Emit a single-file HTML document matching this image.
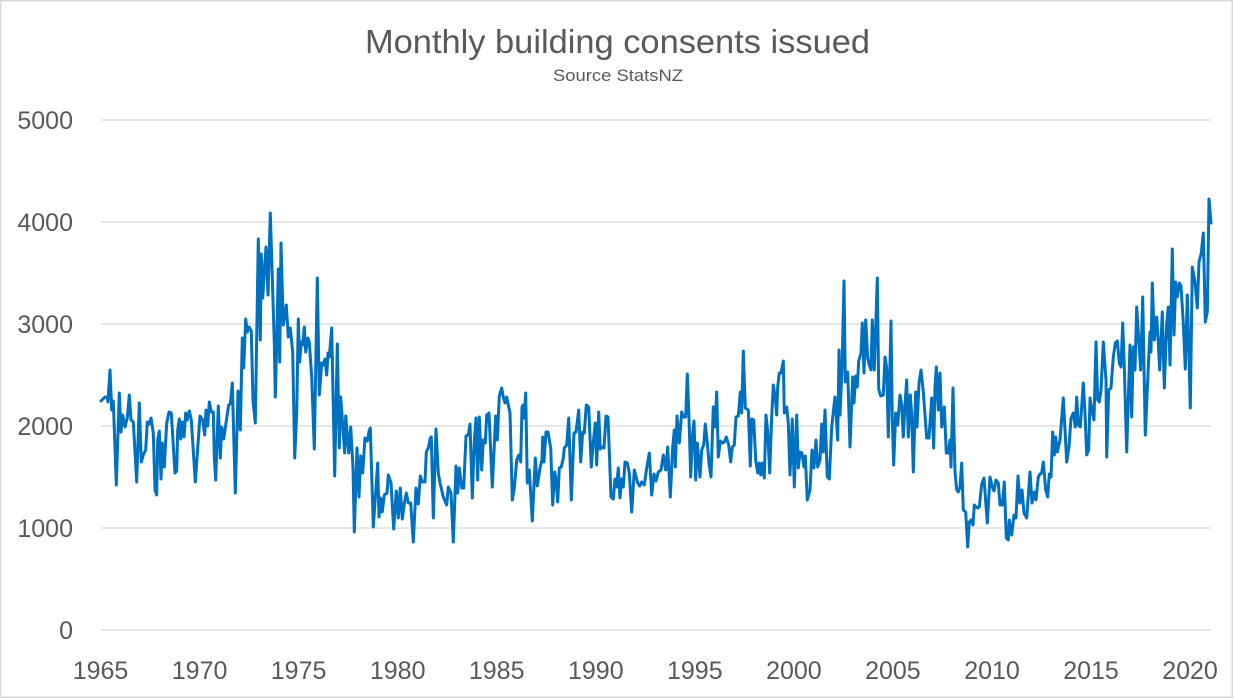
<!DOCTYPE html>
<html>
<head>
<meta charset="utf-8">
<style>
  html,body{margin:0;padding:0;background:#fff;}
  svg{display:block;}
  text{font-family:"Liberation Sans",Arial,sans-serif;fill:#595959;}
</style>
</head>
<body>
<svg width="1235" height="699" viewBox="0 0 1235 699" xmlns="http://www.w3.org/2000/svg">
  <rect x="0" y="0" width="1235" height="699" fill="#fff"/>
  <rect x="0.75" y="0.75" width="1231.5" height="696.5" fill="none" stroke="#d9d9d9" stroke-width="1.5"/>

  <!-- Title -->
  <text x="617.5" y="53" font-size="33" text-anchor="middle" textLength="505" lengthAdjust="spacingAndGlyphs">Monthly building consents issued</text>
  <text x="618" y="81" font-size="16.5" text-anchor="middle" textLength="130" lengthAdjust="spacingAndGlyphs">Source StatsNZ</text>

  <!-- gridlines -->
  <g stroke="#d9d9d9" stroke-width="1.2">
    <line x1="101" y1="120" x2="1211" y2="120"/>
    <line x1="101" y1="222" x2="1211" y2="222"/>
    <line x1="101" y1="324" x2="1211" y2="324"/>
    <line x1="101" y1="426" x2="1211" y2="426"/>
    <line x1="101" y1="528" x2="1211" y2="528"/>
    <line x1="101" y1="630" x2="1211" y2="630"/>
  </g>

  <!-- y labels -->
  <g font-size="25" text-anchor="end">
    <text x="73" y="129">5000</text>
    <text x="73" y="231">4000</text>
    <text x="73" y="333">3000</text>
    <text x="73" y="435">2000</text>
    <text x="73" y="537">1000</text>
    <text x="73" y="639">0</text>
  </g>

  <!-- x labels -->
  <g font-size="25" text-anchor="middle">
    <text x="100.5" y="679">1965</text>
    <text x="199.6" y="679">1970</text>
    <text x="298.6" y="679">1975</text>
    <text x="397.7" y="679">1980</text>
    <text x="496.7" y="679">1985</text>
    <text x="595.8" y="679">1990</text>
    <text x="694.8" y="679">1995</text>
    <text x="793.9" y="679">2000</text>
    <text x="892.9" y="679">2005</text>
    <text x="992" y="679">2010</text>
    <text x="1091" y="679">2015</text>
    <text x="1190" y="679">2020</text>
  </g>

  <!-- series -->
  <polyline fill="none" stroke="#0070c0" stroke-width="3" stroke-linejoin="round" stroke-linecap="round" points="
101,401 105,397 107.3,397 108,402 110,370 111.7,410 113.3,401 116.3,485 119.3,393 121,432 122.7,415 125,427 127.3,418 129.3,395 131,420 133.3,422 136.7,482 139.3,403 141.3,462 143.3,455 145.7,450 147.3,422 149,424 151,418 153.3,433 155,490 156.7,495 157.7,440 159.3,431 161,479 162.3,443 164.3,467 166.7,423 169,412 171.3,413 175,473 176.7,471 177.7,430 179.3,419 180.7,439 182.3,422 184,437 185.7,413 187.3,420 189.3,411 191.3,420 195.3,482 200,416 202.7,420 204.7,435 206,410 207.7,426 209.3,402 211.3,412 213.3,412 214.3,457 215.7,480 218.3,406 220.3,458 221.7,427 223.7,439 226,423 228.7,405 230.3,404 232.3,383 235.3,493 238,391 240.3,430 242.3,338 243.7,368 245.7,319 247.3,332 249,327 251.3,331 253,401 255.3,423 258.3,239 260.3,340 261.3,254 262.7,298 264,277 266,247 268,295 270.3,213 272,268 274.3,343 275.3,397 276.7,343 278.3,269 279.7,362 281,243 283.3,325 286.3,305 288.3,337 290.3,328 292.7,352 294.7,458 296.7,413 298.3,319 299.7,362 301.3,342 302.7,345 304.3,327 305.7,352 307.7,338 309.3,342 311.7,377 314.3,449 317.3,278 319.3,395 321.7,363 323.3,365 325,359 326.7,375 328,353 329.3,357 331.7,328 334.7,476 337.3,344 339.3,448 340.7,397 344.7,453 345.7,416 348.7,453 350.7,427 353,468 354.3,532 357,448 359,497 360.7,456 362.7,473 365,438 367.3,441 369.3,430
370.3,428 373.3,527 377.7,463 379,517 380.7,498 382.3,512 384.3,495 387,493 388.3,475 391,483 393.7,529 396.3,491 398.3,518 400.3,488 402.3,519 404.3,504 406.3,493 408.3,503 410.7,503 413.3,542 416,488 418.3,504 420.3,476 422.3,482 425,482 426.3,452 428.3,448 430.3,438 431.3,437 433.3,518 436,429 438.3,473 440,483 443.3,497 446.7,505 448.3,487 451,493 453.3,542 456,466 457.7,493 459.3,468 461.7,488 463.7,488 466,436 468.3,435 470,424 472.3,498 474.3,442 476,418 477.7,480 479.3,417 481.7,470 483.3,440 485.3,443 486.7,415 489,413 492.3,487 495.7,416 497.3,440 499.3,396
501.7,388 503.3,397 505,403 506.7,397 508.3,405 510,413 512.3,500 514.3,488 516.7,460 518.7,455 520.7,462 522,407 523.3,405 524.3,418 525.7,393 527.3,483 529.3,470 532.3,521 535.3,458 537.3,486 540,468 542,460 542.7,437 544,462 546,432 548,432 550.7,448 552.7,505 554.7,472 556,479 557.7,502 559.3,468 561.3,467 563.3,458 564.3,448 566.7,445 568.7,418 571.3,500 574,433 576,432 578.7,410 580.7,462 582.7,432 584.3,433 586.3,405 588.7,407 591.3,467 593,445 595.3,423 596.7,465 598.7,412 600.3,449 601.7,447 604,448 606,416 608,417 611,497 613.3,499 615,479 616.7,487 618.3,468 620,498 621.7,479 623.3,487 625,462 627.3,463 629.3,473 631.7,512 634.3,470
637.7,483 639.7,486 641.7,482 644.3,485 646.7,468 649.3,453 651.7,495 654,474 656,481 658.3,472 661,470 663.3,455 665.7,470 667.7,447 670.3,497 672.7,447 674.3,430 675.3,467 677,416 679.3,443 681.7,412 683.7,417 685.7,417 687.3,374 689,418 690.7,477 692.3,437 694,421 695.7,480 697.3,443 700,477 701.7,450 703.7,445 705.3,424 707.3,443 709,463 711,477 713.3,407 715,427 716.7,392 718.3,457 720.3,441 722.3,443 724.3,442 726.3,437 728.7,445 730.7,462 732.3,447 734.3,445 736,417 738.3,416 740.3,392 741.7,413 743.3,351 745.3,408 748.3,410 750.3,466 751.7,419 753.7,420 755.7,460 757.7,473 759.3,463 760.7,475 762.3,463 764.3,478 766,415 767.7,431 769.7,473 771.7,417
773.3,385 775.3,398 776.7,415 777.7,387 779.3,373 781,373 783.3,361 784.3,413 786.7,407 788.3,423 790,475 792.3,419 794.3,487 796.7,415 798.3,468 800,452 802,453 804,467 805.3,456 807.3,500 810,490 812,450 814,468 816,440 817.7,467 820,460 821.7,424 823.3,452 825,410 827.3,477 829.3,479 831.7,427 833.3,412 835,397 836.3,417 837.7,440 839,350 840,415 842,370 844,281 845.3,382 847.7,372 850,447 852.7,377 854,403 855.7,376 857.3,387 858.7,361 861,353 862.3,323 864,373 865.7,320 867.7,358 869.3,365 871,370 872.3,320 874.3,370 877.3,278 878.7,389 880.7,396 883.3,395 885,357 886.7,368 888.3,437
891,321 892.3,420 893.7,465 895.7,413 897.7,425 900,395 901.7,405 903.3,437 905,405 906.7,380 908.3,437 910.3,395 911.7,415 913.3,472 915.7,392 917,427 919,383 921,370 923.3,392 926.7,438 929,438 931.7,398 933.7,448 935,387 936.3,367 938.3,410 940,373 941.7,427 944.3,407 946.3,453 948.3,453 950,440 951,467 953,388 955,472 956.7,490 958.3,492 960,487 961.7,463 963.3,510 965.7,512 967.7,547 969.3,522 971,520 973,525 974.3,505 976,507 977.7,508 979.3,507 981.7,484 984,478 987.3,523 990,477 992.3,487 994,491 996,480 998.3,483 1000,505 1002.3,505 1004.3,482 1006.3,538 1008.3,540
1009.3,520 1011.7,535 1014,515 1016,518 1018,476 1020,503 1022,490 1024,513 1026.7,518 1030,472 1032,503 1034.3,492 1036,500 1038.3,477 1040,474 1041.7,473 1043.3,462 1045.7,490 1047.7,497 1049.3,474 1051,477 1052.7,432 1054.3,455 1055.7,437 1057.3,452 1060,440 1063.3,398 1066.7,462 1069,447 1071,418 1073.3,413 1075.3,427 1076.7,397 1078.3,425 1080.3,427 1083.3,383 1085,413 1086.7,455 1088.7,450 1090,398 1092,411 1094,420 1096,342 1097.7,400 1099.3,402 1101,390 1103.3,342 1106,380 1106.7,457 1108.7,390 1111,388 1113.3,357 1115.3,343 1117.3,341 1119.3,363 1121,367 1122.7,323 1124.3,367 1126.7,452 1130,345 1131.7,417 1133.3,347 1135,370 1136.7,307 1138.3,333 1140.7,370 1142.7,297 1145.3,435 1148.3,367 1150,332 1151,352 1152.3,283 1154.3,340 1156.7,317 1158.3,343 1159.7,370 1162.3,312 1164.3,388 1166.7,323 1168.3,307 1170,365 1172.3,249 1174,335 1175.7,282 1177.3,297 1179.3,283 1181,286 1183.3,323 1185.3,369 1187.3,295 1188.7,345 1190.3,408 1192.3,267 1195,282 1197.3,308 1199,262 1201.3,253 1203.3,233 1205.3,322 1207.3,312 1209,199 1211,223"/>
</svg>
</body>
</html>
